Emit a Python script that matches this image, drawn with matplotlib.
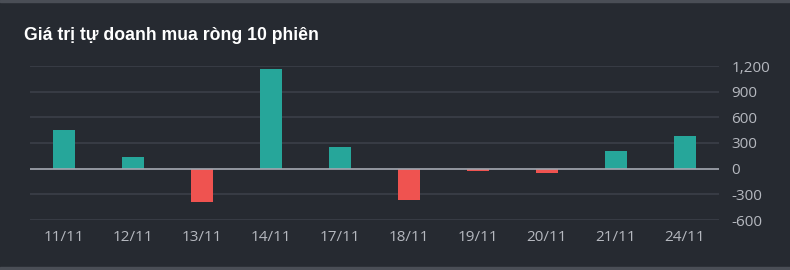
import matplotlib
matplotlib.use("Agg")
import matplotlib.pyplot as plt
from matplotlib.patches import Rectangle
from matplotlib.ticker import FuncFormatter

days = ["11/11", "12/11", "13/11", "14/11", "17/11", "18/11", "19/11", "20/11", "21/11", "24/11"]
net_buy = [456, 140, -393, 1170, 257, -362, -27, -47, 207, 379]
y_ticks = [-600, -300, 0, 300, 600, 900, 1200]

BG = "#262a31"
UP = "#26a69a"
DOWN = "#ef5350"
GRID = "#3b3f48"
TXT = "#b5b8bf"

fig = plt.figure(figsize=(7.9, 2.7), dpi=100, facecolor=BG)
ax = fig.add_axes([30 / 790, 50 / 270, 689 / 790, 154 / 270])
ax.set_facecolor(BG)

colors = [UP if v >= 0 else DOWN for v in net_buy]
ax.bar(range(len(days)), net_buy, width=0.32, color=colors, zorder=3)

ax.set_xlim(-0.5, len(days) - 0.5)
ax.set_ylim(-600, 1200)
ax.set_yticks(y_ticks)
ax.yaxis.set_major_formatter(FuncFormatter(lambda v, p: f"{int(v):,}"))
ax.yaxis.tick_right()
ax.grid(axis="y", color=GRID, linewidth=1.2, zorder=0)
ax.axhline(0, color="#a3a6b0", linewidth=1.2, zorder=4)
ax.set_xticks(range(len(days)))
ax.set_xticklabels(days)
ax.tick_params(length=0, labelsize=11, labelcolor=TXT)
ax.tick_params(axis="x", pad=7)
ax.tick_params(axis="y", pad=9)
for lab in ax.get_xticklabels() + ax.get_yticklabels():
    lab.set_family("Open Sans")
for s in ax.spines.values():
    s.set_visible(False)

fig.text(24 / 790, 1 - 35 / 270, "Giá trị tự doanh mua ròng 10 phiên", color="white",
         fontsize=12.7, fontweight="bold", family="Liberation Sans", va="center", ha="left")

# thin borders of the card
fig.patches.append(Rectangle((0, 1 - 2 / 270), 1, 2 / 270, transform=fig.transFigure,
                             color="#4a4e56", zorder=0))
fig.patches.append(Rectangle((0, 0), 1, 3 / 270, transform=fig.transFigure,
                             color="#4a4e56", zorder=0))

fig.savefig("out.png", dpi=100, facecolor=BG)
